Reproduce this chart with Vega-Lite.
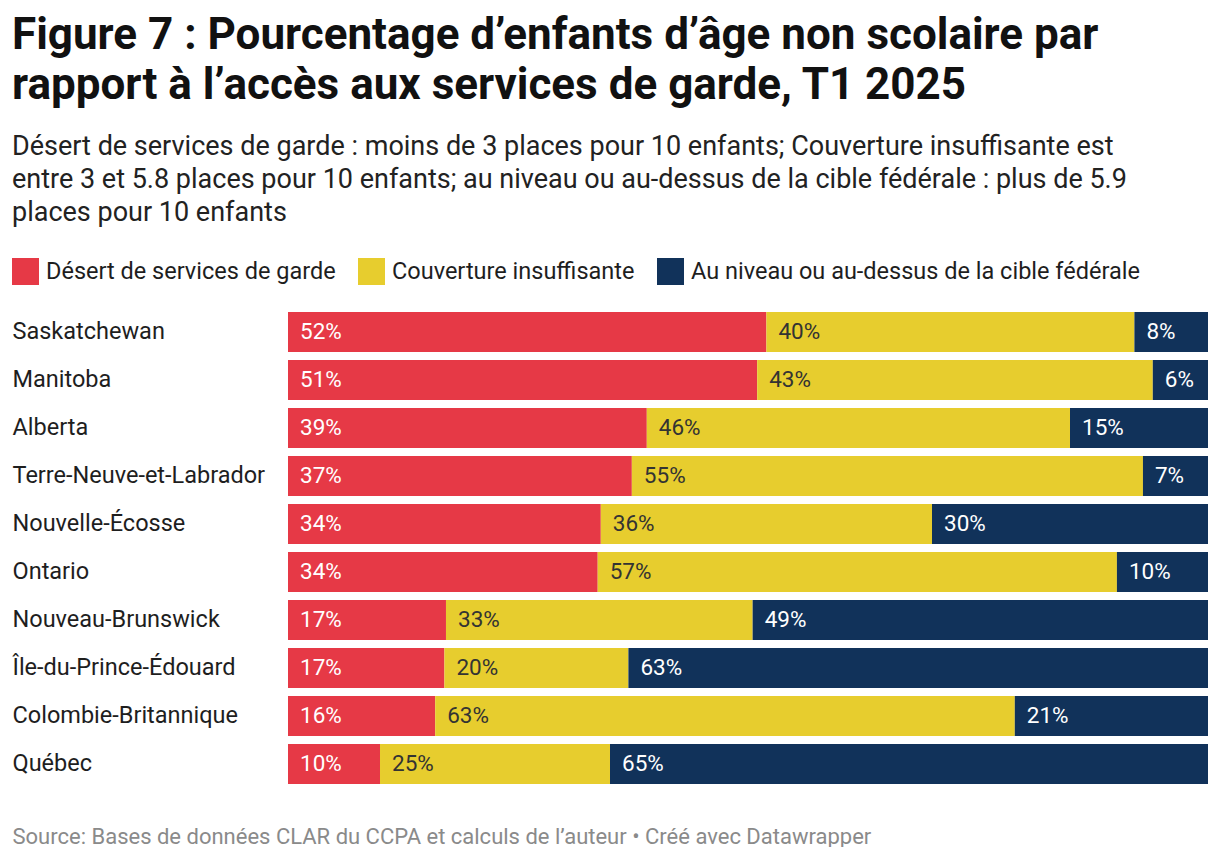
{
  "$schema": "https://vega.github.io/schema/vega-lite/v6.json",
  "width": 920,
  "height": 480,
  "padding": {"left": 12, "top": 14, "right": 12, "bottom": 0},
  "background": "white",
  "title": {
    "text": ["Figure 7 : Pourcentage d’enfants d’âge non scolaire par", "rapport à l’accès aux services de garde, T1 2025"],
    "subtitle": ["Désert de services de garde : moins de 3 places pour 10 enfants; Couverture insuffisante est", "entre 3 et 5.8 places pour 10 enfants; au niveau ou au-dessus de la cible fédérale : plus de 5.9", "places pour 10 enfants"],
    "anchor": "start",
    "font": "Roboto",
    "fontSize": 44,
    "fontWeight": "bold",
    "lineHeight": 50,
    "color": "#111111",
    "subtitleFont": "Roboto",
    "subtitleFontSize": 27,
    "subtitleLineHeight": 33,
    "subtitleColor": "#222222",
    "subtitlePadding": 26,
    "offset": 32
  },
  "data": {
    "values": [
      {"region": "Saskatchewan", "cat": "Désert de services de garde", "o": 1, "value": 0.52},
      {"region": "Saskatchewan", "cat": "Couverture insuffisante", "o": 2, "value": 0.40},
      {"region": "Saskatchewan", "cat": "Au niveau ou au-dessus de la cible fédérale", "o": 3, "value": 0.08},
      {"region": "Manitoba", "cat": "Désert de services de garde", "o": 1, "value": 0.51},
      {"region": "Manitoba", "cat": "Couverture insuffisante", "o": 2, "value": 0.43},
      {"region": "Manitoba", "cat": "Au niveau ou au-dessus de la cible fédérale", "o": 3, "value": 0.06},
      {"region": "Alberta", "cat": "Désert de services de garde", "o": 1, "value": 0.39},
      {"region": "Alberta", "cat": "Couverture insuffisante", "o": 2, "value": 0.46},
      {"region": "Alberta", "cat": "Au niveau ou au-dessus de la cible fédérale", "o": 3, "value": 0.15},
      {"region": "Terre-Neuve-et-Labrador", "cat": "Désert de services de garde", "o": 1, "value": 0.37},
      {"region": "Terre-Neuve-et-Labrador", "cat": "Couverture insuffisante", "o": 2, "value": 0.55},
      {"region": "Terre-Neuve-et-Labrador", "cat": "Au niveau ou au-dessus de la cible fédérale", "o": 3, "value": 0.07},
      {"region": "Nouvelle-Écosse", "cat": "Désert de services de garde", "o": 1, "value": 0.34},
      {"region": "Nouvelle-Écosse", "cat": "Couverture insuffisante", "o": 2, "value": 0.36},
      {"region": "Nouvelle-Écosse", "cat": "Au niveau ou au-dessus de la cible fédérale", "o": 3, "value": 0.30},
      {"region": "Ontario", "cat": "Désert de services de garde", "o": 1, "value": 0.34},
      {"region": "Ontario", "cat": "Couverture insuffisante", "o": 2, "value": 0.57},
      {"region": "Ontario", "cat": "Au niveau ou au-dessus de la cible fédérale", "o": 3, "value": 0.10},
      {"region": "Nouveau-Brunswick", "cat": "Désert de services de garde", "o": 1, "value": 0.17},
      {"region": "Nouveau-Brunswick", "cat": "Couverture insuffisante", "o": 2, "value": 0.33},
      {"region": "Nouveau-Brunswick", "cat": "Au niveau ou au-dessus de la cible fédérale", "o": 3, "value": 0.49},
      {"region": "Île-du-Prince-Édouard", "cat": "Désert de services de garde", "o": 1, "value": 0.17},
      {"region": "Île-du-Prince-Édouard", "cat": "Couverture insuffisante", "o": 2, "value": 0.20},
      {"region": "Île-du-Prince-Édouard", "cat": "Au niveau ou au-dessus de la cible fédérale", "o": 3, "value": 0.63},
      {"region": "Colombie-Britannique", "cat": "Désert de services de garde", "o": 1, "value": 0.16},
      {"region": "Colombie-Britannique", "cat": "Couverture insuffisante", "o": 2, "value": 0.63},
      {"region": "Colombie-Britannique", "cat": "Au niveau ou au-dessus de la cible fédérale", "o": 3, "value": 0.21},
      {"region": "Québec", "cat": "Désert de services de garde", "o": 1, "value": 0.10},
      {"region": "Québec", "cat": "Couverture insuffisante", "o": 2, "value": 0.25},
      {"region": "Québec", "cat": "Au niveau ou au-dessus de la cible fédérale", "o": 3, "value": 0.65}
    ]
  },
  "transform": [
    {"stack": "value", "groupby": ["region"], "sort": [{"field": "o", "order": "ascending"}], "offset": "normalize", "as": ["x0", "x1"]}
  ],
  "encoding": {
    "y": {
      "field": "region",
      "type": "nominal",
      "sort": ["Saskatchewan", "Manitoba", "Alberta", "Terre-Neuve-et-Labrador", "Nouvelle-Écosse", "Ontario", "Nouveau-Brunswick", "Île-du-Prince-Édouard", "Colombie-Britannique", "Québec"],
      "scale": {"paddingInner": 0.1667, "paddingOuter": 0.0833},
      "axis": {
        "title": null,
        "ticks": false,
        "domain": false,
        "labelAlign": "left",
        "labelPadding": 276,
        "labelFont": "Roboto",
        "labelFontSize": 23.5,
        "labelColor": "#1e1e1e",
        "labelLimit": 300
      }
    },
    "x": {
      "field": "x0",
      "type": "quantitative",
      "scale": {"domain": [0, 1], "nice": false, "zero": false},
      "axis": {
        "labels": false,
        "ticks": false,
        "domain": false,
        "grid": false,
        "title": "Source: Bases de données CLAR du CCPA et calculs de l’auteur • Créé avec Datawrapper",
        "titleFont": "Roboto",
        "titleFontSize": 22,
        "titleFontWeight": "normal",
        "titleColor": "#8a8a8a",
        "titleAnchor": "start",
        "titleAlign": "left",
        "titleX": -276,
        "titleY": 55,
        "titleBaseline": "alphabetic"
      }
    }
  },
  "layer": [
    {
      "mark": {"type": "bar", "cornerRadius": 0},
      "encoding": {
        "x2": {"field": "x1"},
        "color": {
          "field": "cat",
          "type": "nominal",
          "scale": {
            "domain": ["Désert de services de garde", "Couverture insuffisante", "Au niveau ou au-dessus de la cible fédérale"],
            "range": ["#e63946", "#e7cd2e", "#11325a"]
          },
          "legend": {
            "title": null,
            "orient": "none",
            "direction": "horizontal",
            "legendX": -276,
            "legendY": -50,
            "symbolType": "square",
            "symbolSize": 729,
            "symbolStrokeWidth": 0,
            "symbolOpacity": 1,
            "labelFont": "Roboto",
            "labelFontSize": 23.5,
            "labelColor": "#1e1e1e",
            "labelOffset": 7,
            "labelLimit": 600,
            "columnPadding": 22
          }
        }
      }
    },
    {
      "mark": {"type": "text", "align": "left", "baseline": "middle", "dx": 12, "font": "Roboto", "fontSize": 22.5},
      "encoding": {
        "text": {"field": "value", "type": "quantitative", "format": ".0%"},
        "color": {
          "condition": {"test": "datum.cat === 'Couverture insuffisante'", "value": "#333333"},
          "value": "#ffffff"
        }
      }
    }
  ],
  "config": {
    "view": {"stroke": null}
  }
}
